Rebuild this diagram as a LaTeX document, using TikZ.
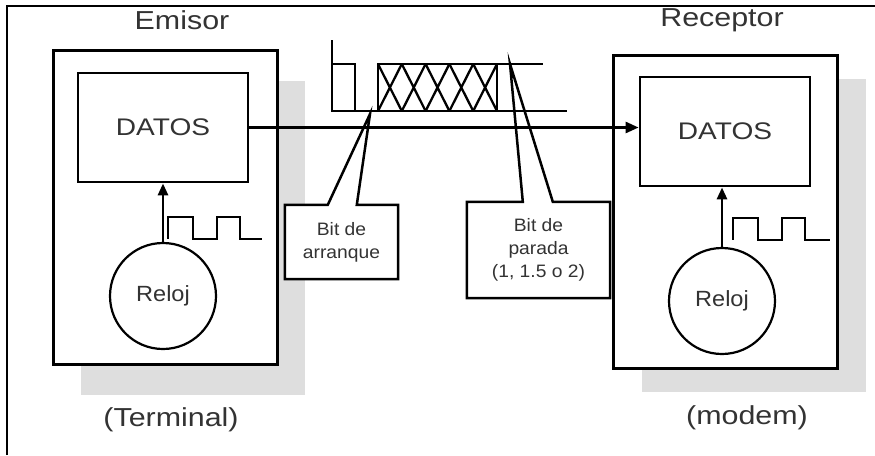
\documentclass[tikz,border=0pt]{standalone}
\usepackage{fontspec}
\setmainfont{Liberation Sans}
\newfontfamily\widefont[FakeStretch=1.17]{Liberation Sans}
\newfontfamily\halfwide[FakeStretch=1.07]{Liberation Sans}
\usetikzlibrary{arrows.meta,calc}
\definecolor{SerText}{HTML}{333333}
\definecolor{SerShadow}{HTML}{DEDEDE}

\begin{document}
\begin{tikzpicture}[x=1pt,y=-1pt,
    unit/.style={draw,line width=3pt,fill=white,minimum width=224pt,inner sep=0pt},
    shadowbox/.style={fill=SerShadow,minimum width=224pt,inner sep=0pt},
    datos/.style={draw,line width=2.8pt,fill=white,minimum width=170pt,minimum height=109pt,font=\widefont\fontsize{24}{28}\selectfont,text=SerText},
    reloj/.style={draw,circle,line width=2.2pt,minimum size=106pt,inner sep=0pt,font=\halfwide\fontsize{22}{26}\selectfont,text=SerText},
    title/.style={font=\widefont\fontsize{26}{30}\selectfont,text=SerText},
    tag/.style={fill=white,inner sep=0pt,align=center,font=\halfwide\fontsize{18}{23}\selectfont,text=SerText},
    call/.style={line width=2.5pt},
    sig/.style={line width=2.7pt},
    arr/.style={-{Triangle[length=13pt,width=11pt]},line width=2.6pt},
    clk/.style={-{Triangle[length=12pt,width=10pt]},line width=2.8pt}
  ]
  \useasboundingbox (0,0) rectangle (875,455);
  \draw[line width=2.2pt] (7,455) -- (7,6) -- (875,6);

  \node[shadowbox,minimum height=314pt] (shE) at (192.5,237.5) {};
  \node[shadowbox,minimum height=313pt] (shR) at (754,235.5) {};
  \node[unit,minimum height=314pt] (uE) at (165.5,207.5) {};
  \node[unit,minimum height=313pt] (uR) at (725,211.5) {};

  \node[title] (tE) at (182,20) {Emisor};
  \node[title] (tR) at (722,20) {Receptor};
  \node[title] (bE) at (171,420) {(Terminal)};
  \node[title] (bR) at (747,418) {(modem)};

  \node[datos] (dE) at (163,127.5) {DATOS};
  \node[datos] (dR) at (725,131.5) {DATOS};
  \node[reloj] (rE) at (163,296) {Reloj};
  \node[reloj] (rR) at (722,301) {Reloj};

  \draw[clk] (rE.north) -- (rE.north |- dE.south);
  \draw[clk] (rR.north) -- (rR.north |- dR.south);
  \draw[sig] ($(rE.north)+(5,-3)$) -- ++(0,-22) -- ++(25,0) -- ++(0,22) -- ++(24,0)
    -- ++(0,-22) -- ++(23,0) -- ++(0,22) -- ++(22,0);
  \draw[sig] ($(rR.north)+(11,-7)$) -- ++(0,-22) -- ++(25,0) -- ++(0,22) -- ++(24,0)
    -- ++(0,-22) -- ++(23,0) -- ++(0,22) -- ++(25,0);

  \draw[sig] (332,40) -- (332,111) -- (567,111);
  \draw[sig] (332,64) -- (355,64) -- (355,111);
  \draw[sig] (378,64) rectangle (497,111);
  \draw[sig] (497,64) -- (543,64);
  \foreach \i in {0,...,4}
    \draw[line width=2.3pt] ({378+\i*23.8},64) -- ++(23.8,47) ({378+\i*23.8},111) -- ++(23.8,-47);
  \coordinate (sa) at (370,114);
  \coordinate (sp) at (510,64);

  \node[tag,minimum width=113pt,minimum height=74pt] (cA) at (341.5,242) {Bit de\\arranque};
  \node[tag,minimum width=143pt,minimum height=96pt] (cP) at (538.5,250) {Bit de\\parada\\(1, 1.5 o 2)};
  \draw[call] ($(cA.north west)+(43,0)$) -- (sa) -- ($(cA.north west)+(72,0)$) -- (cA.north east)
    -- (cA.south east) -- (cA.south west) -- (cA.north west) -- cycle;
  \draw[call] ($(cP.north west)+(56,0)$) -- (sp) -- ($(cP.north west)+(86,0)$) -- (cP.north east)
    -- (cP.south east) -- (cP.south west) -- (cP.north west) -- cycle;

  \draw[arr] (dE.east) -- (dE.east -| dR.west);
\end{tikzpicture}
\end{document}
